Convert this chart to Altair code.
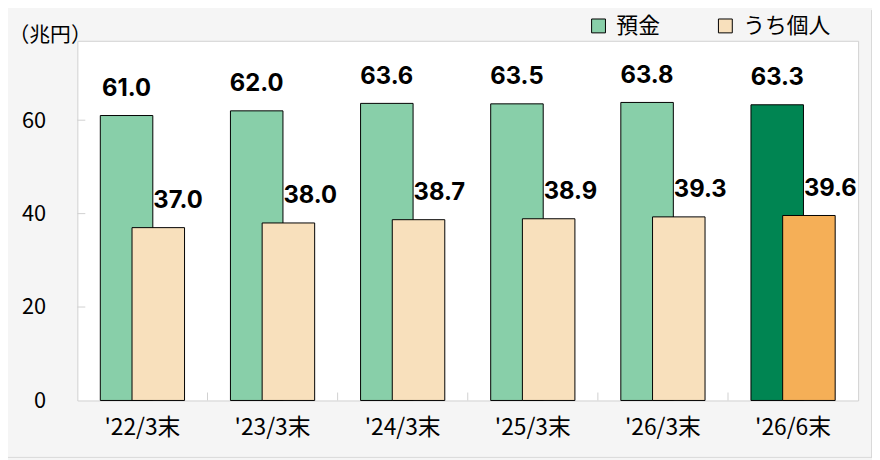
import json
import altair as alt
import pandas as pd

# ---- data ----
categories = ["'22/3末", "'23/3末", "'24/3末", "'25/3末", "'26/3末", "'26/6末"]
deposits = [61.0, 62.0, 63.6, 63.5, 63.8, 63.3]
personal = [37.0, 38.0, 38.7, 38.9, 39.3, 39.6]
series_names = ["預金", "うち個人"]
y_tick_values = [0, 20, 40, 60]
inner_tick_values = [20, 40, 60]

LIGHT_GREEN = "#88CFA9"
TAN = "#F8E0BC"
DARK_GREEN = "#008552"
ORANGE = "#F5AF57"
FONT = "Noto Sans CJK JP"
NUM_FONT = "Inter"

df = pd.DataFrame({
    "cat": categories * 2,
    "series": [series_names[0]] * len(categories) + [series_names[1]] * len(categories),
    "value": deposits + personal,
})
latest = categories[-1]
is_latest = "datum.cat === " + json.dumps(latest, ensure_ascii=False)

y_scale = alt.Scale(domain=[0, 77], nice=False, zero=True)
x_scale = alt.Scale(paddingInner=0, paddingOuter=0)

x_axis = alt.Axis(title=None, labelAngle=0, tickSize=0, domain=False,
                  labelPadding=16, labelFontSize=23, labelFont=FONT,
                  labelColor="#000")
y_axis = alt.Axis(values=y_tick_values, title="（兆円）", titleAngle=0,
                  titleX=-70, titleY=-5, titleAlign="left",
                  titleBaseline="middle", titleFontSize=21,
                  titleFontWeight="normal", titleFont=FONT, titleColor="#000",
                  labelFontSize=22, labelFont=FONT, labelColor="#000",
                  grid=False, domain=False, tickSize=0, labelPadding=32)

x_enc = alt.X("cat:N", sort=categories, scale=x_scale, axis=x_axis)
y_enc = alt.Y("value:Q", scale=y_scale, axis=y_axis)

color_scale = alt.Scale(domain=series_names, range=[LIGHT_GREEN, TAN])
legend = alt.Legend(title=None, orient="none", legendX=515, legendY=-26,
                    direction="horizontal", symbolType="square", symbolSize=196,
                    symbolStrokeColor="black", symbolStrokeWidth=1,
                    labelFontSize=22, labelFont=FONT, labelColor="#000",
                    columnPadding=54, padding=0, labelOffset=7)

base = alt.Chart(df)
dep = base.transform_filter(alt.datum.series == series_names[0])
per = base.transform_filter(alt.datum.series == series_names[1])

green_bars = dep.mark_bar(width=53, xOffset=-16, stroke="black", strokeWidth=1).encode(
    x=x_enc, y=y_enc,
    color=alt.condition(is_latest, alt.value(DARK_GREEN),
                        alt.Color("series:N", scale=color_scale, legend=legend)),
)
tan_bars = per.mark_bar(width=53, xOffset=16, stroke="black", strokeWidth=1).encode(
    x=x_enc, y=y_enc,
    color=alt.condition(is_latest, alt.value(ORANGE),
                        alt.Color("series:N", scale=color_scale, legend=legend)),
)

green_text = dep.mark_text(xOffset=-16, dy=-20, baseline="alphabetic", align="center",
                           fontSize=24, fontWeight="bold", font=NUM_FONT, color="black").encode(
    x=x_enc, y=y_enc, text=alt.Text("value:Q", format=".1f"))
tan_text = per.mark_text(xOffset=11, dy=-20, baseline="alphabetic", align="left",
                         fontSize=24, fontWeight="bold", font=NUM_FONT, color="black").encode(
    x=x_enc, y=y_enc, text=alt.Text("value:Q", format=".1f"))

ytick_df = pd.DataFrame({"value": inner_tick_values})
y_ticks = alt.Chart(ytick_df).mark_rule(color="#d0d0d0", strokeWidth=1).encode(
    y=alt.Y("value:Q", scale=y_scale, axis=y_axis),
    x=alt.value(0), x2=alt.value(8))

xtick_df = pd.DataFrame({"cat": categories[:-1]})
x_ticks = alt.Chart(xtick_df).mark_rule(color="#d0d0d0", strokeWidth=1).encode(
    x=alt.X("cat:N", sort=categories, scale=x_scale, bandPosition=1, axis=x_axis),
    y=alt.value(355), y2=alt.value(363))

# outer frame of the chart area (right and bottom edges)
frame_right = alt.Chart(pd.DataFrame({"k": [0]})).mark_rule(color="#d9d9d9", strokeWidth=1).encode(
    x=alt.value(801.5), y=alt.value(-31), y2=alt.value(421))
frame_bottom = alt.Chart(pd.DataFrame({"k": [0]})).mark_rule(color="#d9d9d9", strokeWidth=1).encode(
    x=alt.value(-70), x2=alt.value(802), y=alt.value(420.5))

chart = alt.layer(green_bars, tan_bars, green_text, tan_text, y_ticks, x_ticks,
                  frame_right, frame_bottom).properties(
    width=788, height=363,
    autosize=alt.AutoSizeParams(type="none"),
    padding={"left": 70, "top": 31, "right": 14, "bottom": 58},
).configure(background="#f5f5f5").configure_view(fill="white", stroke="#d0d0d0", strokeWidth=1)

chart.save("out.html", embed_options={"renderer": "svg", "actions": False})
